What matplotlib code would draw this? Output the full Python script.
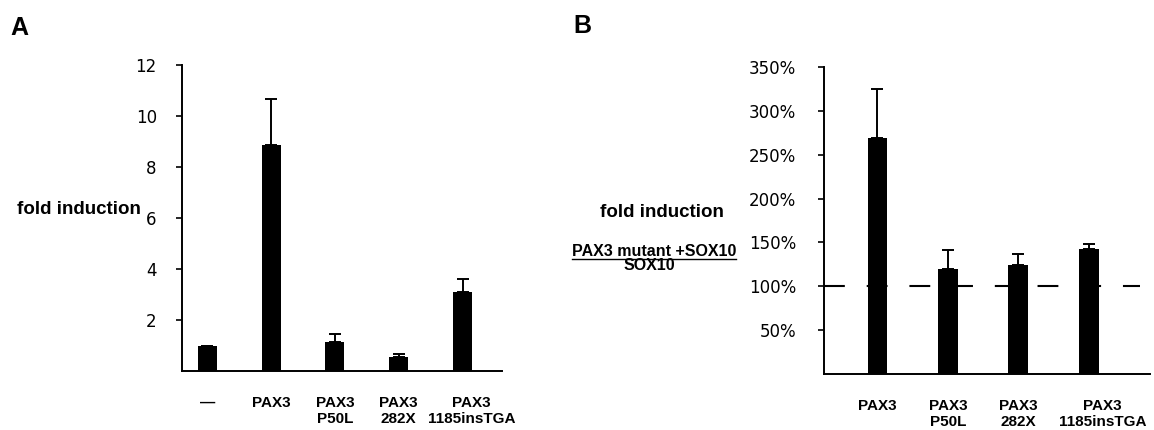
import numpy as np
import matplotlib
matplotlib.use('Agg')
import matplotlib.pyplot as plt
import matplotlib.transforms as mtransforms
from matplotlib.lines import Line2D

# panel A: fold induction
groups_a = ['\u2014', 'PAX3', 'PAX3\nP50L', 'PAX3\n282X', 'PAX3\n1185insTGA']
fold_a = [1.0, 8.86, 1.15, 0.55, 3.11]
err_a = [0.0, 1.81, 0.29, 0.11, 0.49]
yticks_a = [2, 4, 6, 8, 10, 12]

# panel B: (PAX3 mutant + SOX10) / SOX10
groups_b = ['PAX3', 'PAX3\nP50L', 'PAX3\n282X', 'PAX3\n1185insTGA']
pct_b = [269, 120, 124, 142]
err_b = [56, 21, 13, 6]
yticks_b = [50, 100, 150, 200, 250, 300, 350]
baseline_b = 100

plt.rcParams['font.family'] = 'DejaVu Sans'
BOLD = 'Liberation Sans'

fig = plt.figure(figsize=(11.54, 4.30), dpi=100)

def style_axis(ax, ypad, last_shift):
    for s in ['top', 'right']:
        ax.spines[s].set_visible(False)
    for s in ['left', 'bottom']:
        ax.spines[s].set_linewidth(1.4)
    ax.tick_params(axis='y', length=4, width=1.2, pad=ypad, labelsize=12)
    ax.tick_params(axis='x', length=0, pad=18)
    for lab in ax.get_xticklabels():
        lab.set_fontfamily(BOLD)
        lab.set_fontweight('bold')
        lab.set_fontsize(11)
        lab.set_linespacing(1.2)
    # the long last label sits a little right of its bar in the original
    lab = ax.get_xticklabels()[-1]
    lab.set_transform(lab.get_transform() +
                      mtransforms.ScaledTranslation(last_shift / 100, 0, fig.dpi_scale_trans))

# ---- A ----
axA = fig.add_axes([0.1575, 0.1372, 0.2776, 0.7116])
xa = np.arange(len(groups_a))
axA.bar(xa, fold_a, width=0.30, color='black', zorder=3)
axA.errorbar(xa, fold_a, yerr=[np.zeros(len(err_a)), err_a], fmt='none',
             ecolor='black', elinewidth=1.4, capsize=4.5, capthick=1.4, zorder=2)
axA.set_xlim(-0.40, 4.62)
axA.set_ylim(0, 12)
axA.set_yticks(yticks_a)
axA.set_xticks(xa)
axA.set_xticklabels(groups_a)
style_axis(axA, 14, 9)

# ---- B ----
axB = fig.add_axes([0.714, 0.1302, 0.2825, 0.714])
xb = np.arange(len(groups_b))
axB.axhline(baseline_b, xmin=0, xmax=0.969, color='black', lw=1.5,
            dashes=(10, 10.5), zorder=1)
axB.bar(xb, pct_b, width=0.28, color='black', zorder=3)
axB.errorbar(xb, pct_b, yerr=[np.zeros(len(err_b)), err_b], fmt='none',
             ecolor='black', elinewidth=1.4, capsize=4.5, capthick=1.4, zorder=2)
axB.set_xlim(-0.76, 3.87)
axB.set_ylim(0, 350)
axB.set_yticks(yticks_b)
axB.set_yticklabels([f'{v}%' for v in yticks_b])
axB.set_xticks(xb)
axB.set_xticklabels(groups_b)
style_axis(axB, 16, 14)

# panel letters and y labels
fig.text(0.0087, 0.9186, 'A', fontsize=18, fontweight='bold', family=BOLD, va='baseline')
fig.text(0.4965, 0.9233, 'B', fontsize=18, fontweight='bold', family=BOLD, va='baseline')
fig.text(0.0147, 0.5023, 'fold induction', fontsize=13.5, fontweight='bold',
         family=BOLD, va='baseline', ha='left')
fig.text(0.5737, 0.4953, 'fold induction', fontsize=13.5, fontweight='bold',
         family=BOLD, va='baseline', ha='center')
num = fig.text(0.5667, 0.4047, 'PAX3 mutant +SOX10', fontsize=11.5, fontweight='bold',
               family=BOLD, va='baseline', ha='center')
fig.text(0.5624, 0.372, 'SOX10', fontsize=11.5, fontweight='bold',
         family=BOLD, va='baseline', ha='center')

# underline the numerator
fig.canvas.draw()
bb = num.get_window_extent().transformed(fig.transFigure.inverted())
uy = 0.4047 - 3.0 / 430
fig.add_artist(Line2D([bb.x0, bb.x1], [uy, uy], color='black', lw=1.0,
                      transform=fig.transFigure))

fig.savefig('out.png', dpi=100)
